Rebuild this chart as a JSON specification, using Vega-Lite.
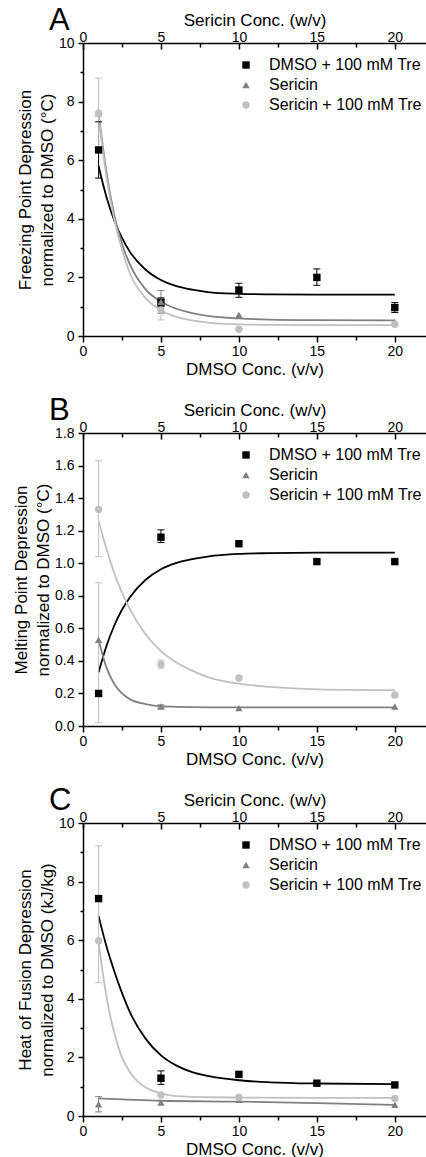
{
  "$schema": "https://vega.github.io/schema/vega-lite/v6.json",
  "padding": {"left": 12, "top": 5, "right": 0, "bottom": 0},
  "background": "white",
  "datasets": {
    "fits": [
      {"p":"A","s":"DMSO + 100 mM Tre","x":1,"y":5.8},{"p":"A","s":"DMSO + 100 mM Tre","x":1.5,"y":4.75},{"p":"A","s":"DMSO + 100 mM Tre","x":2,"y":3.95},{"p":"A","s":"DMSO + 100 mM Tre","x":2.5,"y":3.35},{"p":"A","s":"DMSO + 100 mM Tre","x":3,"y":2.88},{"p":"A","s":"DMSO + 100 mM Tre","x":4,"y":2.27},{"p":"A","s":"DMSO + 100 mM Tre","x":5,"y":1.91},{"p":"A","s":"DMSO + 100 mM Tre","x":6,"y":1.7},{"p":"A","s":"DMSO + 100 mM Tre","x":7,"y":1.58},{"p":"A","s":"DMSO + 100 mM Tre","x":8,"y":1.5},{"p":"A","s":"DMSO + 100 mM Tre","x":10,"y":1.44},{"p":"A","s":"DMSO + 100 mM Tre","x":12,"y":1.42},{"p":"A","s":"DMSO + 100 mM Tre","x":15,"y":1.41},{"p":"A","s":"DMSO + 100 mM Tre","x":20,"y":1.41},
      {"p":"A","s":"Sericin","x":1,"y":7.6},{"p":"A","s":"Sericin","x":1.5,"y":5.6},{"p":"A","s":"Sericin","x":2,"y":4.15},{"p":"A","s":"Sericin","x":2.5,"y":3.15},{"p":"A","s":"Sericin","x":3,"y":2.45},{"p":"A","s":"Sericin","x":4,"y":1.6},{"p":"A","s":"Sericin","x":5,"y":1.17},{"p":"A","s":"Sericin","x":6,"y":0.93},{"p":"A","s":"Sericin","x":7,"y":0.78},{"p":"A","s":"Sericin","x":8,"y":0.69},{"p":"A","s":"Sericin","x":10,"y":0.6},{"p":"A","s":"Sericin","x":12,"y":0.56},{"p":"A","s":"Sericin","x":15,"y":0.54},{"p":"A","s":"Sericin","x":20,"y":0.53},
      {"p":"A","s":"Sericin + 100 mM Tre","x":1,"y":7.5},{"p":"A","s":"Sericin + 100 mM Tre","x":1.5,"y":5.45},{"p":"A","s":"Sericin + 100 mM Tre","x":2,"y":4.0},{"p":"A","s":"Sericin + 100 mM Tre","x":2.5,"y":2.95},{"p":"A","s":"Sericin + 100 mM Tre","x":3,"y":2.15},{"p":"A","s":"Sericin + 100 mM Tre","x":4,"y":1.3},{"p":"A","s":"Sericin + 100 mM Tre","x":5,"y":0.88},{"p":"A","s":"Sericin + 100 mM Tre","x":6,"y":0.65},{"p":"A","s":"Sericin + 100 mM Tre","x":7,"y":0.53},{"p":"A","s":"Sericin + 100 mM Tre","x":8,"y":0.46},{"p":"A","s":"Sericin + 100 mM Tre","x":10,"y":0.4},{"p":"A","s":"Sericin + 100 mM Tre","x":12,"y":0.38},{"p":"A","s":"Sericin + 100 mM Tre","x":15,"y":0.37},{"p":"A","s":"Sericin + 100 mM Tre","x":20,"y":0.37},
      {"p":"B","s":"DMSO + 100 mM Tre","x":1,"y":0.33},{"p":"B","s":"DMSO + 100 mM Tre","x":1.5,"y":0.49},{"p":"B","s":"DMSO + 100 mM Tre","x":2,"y":0.616},{"p":"B","s":"DMSO + 100 mM Tre","x":2.5,"y":0.714},{"p":"B","s":"DMSO + 100 mM Tre","x":3,"y":0.79},{"p":"B","s":"DMSO + 100 mM Tre","x":4,"y":0.897},{"p":"B","s":"DMSO + 100 mM Tre","x":5,"y":0.963},{"p":"B","s":"DMSO + 100 mM Tre","x":6,"y":1.002},{"p":"B","s":"DMSO + 100 mM Tre","x":7,"y":1.025},{"p":"B","s":"DMSO + 100 mM Tre","x":8,"y":1.041},{"p":"B","s":"DMSO + 100 mM Tre","x":10,"y":1.057},{"p":"B","s":"DMSO + 100 mM Tre","x":12,"y":1.062},{"p":"B","s":"DMSO + 100 mM Tre","x":15,"y":1.065},{"p":"B","s":"DMSO + 100 mM Tre","x":20,"y":1.065},
      {"p":"B","s":"Sericin","x":1,"y":0.53},{"p":"B","s":"Sericin","x":1.5,"y":0.36},{"p":"B","s":"Sericin","x":2,"y":0.26},{"p":"B","s":"Sericin","x":2.5,"y":0.2},{"p":"B","s":"Sericin","x":3,"y":0.165},{"p":"B","s":"Sericin","x":4,"y":0.135},{"p":"B","s":"Sericin","x":5,"y":0.122},{"p":"B","s":"Sericin","x":6,"y":0.118},{"p":"B","s":"Sericin","x":8,"y":0.115},{"p":"B","s":"Sericin","x":10,"y":0.115},{"p":"B","s":"Sericin","x":15,"y":0.115},{"p":"B","s":"Sericin","x":20,"y":0.115},
      {"p":"B","s":"Sericin + 100 mM Tre","x":1,"y":1.26},{"p":"B","s":"Sericin + 100 mM Tre","x":1.5,"y":1.09},{"p":"B","s":"Sericin + 100 mM Tre","x":2,"y":0.94},{"p":"B","s":"Sericin + 100 mM Tre","x":2.5,"y":0.82},{"p":"B","s":"Sericin + 100 mM Tre","x":3,"y":0.72},{"p":"B","s":"Sericin + 100 mM Tre","x":4,"y":0.565},{"p":"B","s":"Sericin + 100 mM Tre","x":5,"y":0.46},{"p":"B","s":"Sericin + 100 mM Tre","x":6,"y":0.39},{"p":"B","s":"Sericin + 100 mM Tre","x":7,"y":0.34},{"p":"B","s":"Sericin + 100 mM Tre","x":8,"y":0.3},{"p":"B","s":"Sericin + 100 mM Tre","x":10,"y":0.26},{"p":"B","s":"Sericin + 100 mM Tre","x":12,"y":0.24},{"p":"B","s":"Sericin + 100 mM Tre","x":15,"y":0.225},{"p":"B","s":"Sericin + 100 mM Tre","x":20,"y":0.22},
      {"p":"C","s":"DMSO + 100 mM Tre","x":1,"y":6.83},{"p":"C","s":"DMSO + 100 mM Tre","x":1.5,"y":5.8},{"p":"C","s":"DMSO + 100 mM Tre","x":2,"y":4.95},{"p":"C","s":"DMSO + 100 mM Tre","x":2.5,"y":4.2},{"p":"C","s":"DMSO + 100 mM Tre","x":3,"y":3.55},{"p":"C","s":"DMSO + 100 mM Tre","x":4,"y":2.65},{"p":"C","s":"DMSO + 100 mM Tre","x":5,"y":2.07},{"p":"C","s":"DMSO + 100 mM Tre","x":6,"y":1.72},{"p":"C","s":"DMSO + 100 mM Tre","x":7,"y":1.5},{"p":"C","s":"DMSO + 100 mM Tre","x":8,"y":1.37},{"p":"C","s":"DMSO + 100 mM Tre","x":10,"y":1.22},{"p":"C","s":"DMSO + 100 mM Tre","x":12,"y":1.15},{"p":"C","s":"DMSO + 100 mM Tre","x":15,"y":1.11},{"p":"C","s":"DMSO + 100 mM Tre","x":20,"y":1.09},
      {"p":"C","s":"Sericin","x":1,"y":0.6},{"p":"C","s":"Sericin","x":5,"y":0.52},{"p":"C","s":"Sericin","x":10,"y":0.49},{"p":"C","s":"Sericin","x":15,"y":0.44},{"p":"C","s":"Sericin","x":20,"y":0.38},
      {"p":"C","s":"Sericin + 100 mM Tre","x":1,"y":5.92},{"p":"C","s":"Sericin + 100 mM Tre","x":1.25,"y":4.95},{"p":"C","s":"Sericin + 100 mM Tre","x":1.5,"y":4.1},{"p":"C","s":"Sericin + 100 mM Tre","x":1.75,"y":3.4},{"p":"C","s":"Sericin + 100 mM Tre","x":2,"y":2.85},{"p":"C","s":"Sericin + 100 mM Tre","x":2.5,"y":2.0},{"p":"C","s":"Sericin + 100 mM Tre","x":3,"y":1.5},{"p":"C","s":"Sericin + 100 mM Tre","x":3.5,"y":1.18},{"p":"C","s":"Sericin + 100 mM Tre","x":4,"y":0.98},{"p":"C","s":"Sericin + 100 mM Tre","x":5,"y":0.77},{"p":"C","s":"Sericin + 100 mM Tre","x":6,"y":0.68},{"p":"C","s":"Sericin + 100 mM Tre","x":8,"y":0.64},{"p":"C","s":"Sericin + 100 mM Tre","x":10,"y":0.63},{"p":"C","s":"Sericin + 100 mM Tre","x":15,"y":0.62},{"p":"C","s":"Sericin + 100 mM Tre","x":20,"y":0.62}
    ],
    "errs": [
      {"p":"A","s":"DMSO + 100 mM Tre","x":1,"lo":5.39,"hi":7.31},
      {"p":"A","s":"DMSO + 100 mM Tre","x":5,"lo":1.0,"hi":1.3},
      {"p":"A","s":"DMSO + 100 mM Tre","x":10,"lo":1.32,"hi":1.8},
      {"p":"A","s":"DMSO + 100 mM Tre","x":15,"lo":1.73,"hi":2.29},
      {"p":"A","s":"DMSO + 100 mM Tre","x":20,"lo":0.8,"hi":1.14},
      {"p":"A","s":"Sericin","x":5,"lo":0.77,"hi":1.55},
      {"p":"A","s":"Sericin + 100 mM Tre","x":1,"lo":6.4,"hi":8.8},
      {"p":"A","s":"Sericin + 100 mM Tre","x":5,"lo":0.55,"hi":1.25},
      {"p":"B","s":"DMSO + 100 mM Tre","x":5,"lo":1.127,"hi":1.205},
      {"p":"B","s":"Sericin","x":5,"lo":0.11,"hi":0.13},
      {"p":"B","s":"Sericin + 100 mM Tre","x":1,"lo":1.04,"hi":1.63},
      {"p":"B","s":"Sericin + 100 mM Tre","x":1,"lo":0.02,"hi":0.88},
      {"p":"B","s":"Sericin + 100 mM Tre","x":5,"lo":0.355,"hi":0.405},
      {"p":"C","s":"DMSO + 100 mM Tre","x":5,"lo":1.08,"hi":1.54},
      {"p":"C","s":"Sericin","x":1,"lo":0.14,"hi":0.66},
      {"p":"C","s":"Sericin + 100 mM Tre","x":1,"lo":4.55,"hi":9.22}
    ],
    "pts": [
      {"p":"A","s":"DMSO + 100 mM Tre","x":1,"y":6.35},
      {"p":"A","s":"DMSO + 100 mM Tre","x":5,"y":1.15},
      {"p":"A","s":"DMSO + 100 mM Tre","x":10,"y":1.57},
      {"p":"A","s":"DMSO + 100 mM Tre","x":15,"y":2.0},
      {"p":"A","s":"DMSO + 100 mM Tre","x":20,"y":0.97},
      {"p":"A","s":"Sericin","x":1,"y":7.6},
      {"p":"A","s":"Sericin","x":5,"y":1.17},
      {"p":"A","s":"Sericin","x":10,"y":0.72},
      {"p":"A","s":"Sericin","x":20,"y":0.48},
      {"p":"A","s":"Sericin + 100 mM Tre","x":1,"y":7.6},
      {"p":"A","s":"Sericin + 100 mM Tre","x":5,"y":0.89},
      {"p":"A","s":"Sericin + 100 mM Tre","x":10,"y":0.23},
      {"p":"A","s":"Sericin + 100 mM Tre","x":20,"y":0.4},
      {"p":"B","s":"DMSO + 100 mM Tre","x":1,"y":0.2},
      {"p":"B","s":"DMSO + 100 mM Tre","x":5,"y":1.16},
      {"p":"B","s":"DMSO + 100 mM Tre","x":10,"y":1.12},
      {"p":"B","s":"DMSO + 100 mM Tre","x":15,"y":1.01},
      {"p":"B","s":"DMSO + 100 mM Tre","x":20,"y":1.01},
      {"p":"B","s":"Sericin","x":1,"y":0.53},
      {"p":"B","s":"Sericin","x":5,"y":0.12},
      {"p":"B","s":"Sericin","x":10,"y":0.11},
      {"p":"B","s":"Sericin","x":20,"y":0.12},
      {"p":"B","s":"Sericin + 100 mM Tre","x":1,"y":1.33},
      {"p":"B","s":"Sericin + 100 mM Tre","x":5,"y":0.38},
      {"p":"B","s":"Sericin + 100 mM Tre","x":10,"y":0.295},
      {"p":"B","s":"Sericin + 100 mM Tre","x":20,"y":0.19},
      {"p":"C","s":"DMSO + 100 mM Tre","x":1,"y":7.42},
      {"p":"C","s":"DMSO + 100 mM Tre","x":5,"y":1.29},
      {"p":"C","s":"DMSO + 100 mM Tre","x":10,"y":1.42},
      {"p":"C","s":"DMSO + 100 mM Tre","x":15,"y":1.12},
      {"p":"C","s":"DMSO + 100 mM Tre","x":20,"y":1.06},
      {"p":"C","s":"Sericin","x":1,"y":0.4},
      {"p":"C","s":"Sericin","x":5,"y":0.46},
      {"p":"C","s":"Sericin","x":10,"y":0.55},
      {"p":"C","s":"Sericin","x":20,"y":0.38},
      {"p":"C","s":"Sericin + 100 mM Tre","x":1,"y":5.98},
      {"p":"C","s":"Sericin + 100 mM Tre","x":5,"y":0.72},
      {"p":"C","s":"Sericin + 100 mM Tre","x":10,"y":0.64},
      {"p":"C","s":"Sericin + 100 mM Tre","x":20,"y":0.6}
    ]
  },
  "spacing": 97,
  "bounds": "flush",
  "resolve": {"scale": {"x": "independent", "y": "independent", "color": "independent", "shape": "independent", "stroke": "independent"}},
  "vconcat": [
    {
      "title": {"text": "A"},
      "width": 343, "height": 293,
      "resolve": {"axis": {"x": "independent", "y": "independent"}},
      "layer": [
        {"data": {"name": "fits"}, "transform": [{"filter": "datum.p == 'A'"}],
         "mark": {"type": "line", "strokeWidth": 1.8, "interpolate": "monotone", "clip": true},
         "encoding": {
           "x": {"field": "x", "type": "quantitative", "scale": {"domain": [0, 22], "nice": false, "zero": false},
                 "axis": {"orient": "bottom", "values": [0,5,10,15,20], "title": "DMSO Conc. (v/v)", "tickSize": 6, "labelPadding": 2, "titlePadding": 3}},
           "y": {"field": "y", "type": "quantitative", "scale": {"domain": [0, 10], "nice": false},
                 "axis": {"orient": "left", "values": [0,2,4,6,8,10], "title": ["Freezing Point Depression", "normalized to DMSO (°C)"], "tickSize": 5, "labelPadding": 4, "titlePadding": 2}},
           "stroke": {"field": "s", "type": "nominal", "legend": null, "scale": {"range": ["#000000", "#808080", "#c0c0c0"]}}
         }},
        {"data": {"name": "errs"}, "transform": [{"filter": "datum.p == 'A'"}],
         "mark": {"type": "rule", "strokeWidth": 1},
         "encoding": {
           "x": {"field": "x", "type": "quantitative", "axis": {"orient": "top", "values": [0,5,10,15,20], "title": "Sericin Conc. (w/v)", "tickSize": -6, "labelPadding": 5, "titlePadding": 1}},
           "y": {"field": "lo", "type": "quantitative", "axis": {"orient": "left", "values": [1,3,5,7,9], "labels": false, "title": null, "tickSize": 3, "domain": false}},
           "y2": {"field": "hi"},
           "stroke": {"field": "s", "type": "nominal", "legend": null}
         }},
        {"data": {"name": "errs"}, "transform": [{"filter": "datum.p == 'A'"}],
         "mark": {"type": "point", "shape": "stroke", "filled": false, "strokeWidth": 1, "size": 49, "opacity": 1},
         "encoding": {
           "x": {"field": "x", "type": "quantitative", "axis": {"orient": "bottom", "values": [2.5,7.5,12.5,17.5], "labels": false, "title": null, "tickSize": 4, "domain": false}},
           "y": {"field": "lo", "type": "quantitative", "axis": null},
           "stroke": {"field": "s", "type": "nominal", "legend": null}
         }},
        {"data": {"name": "errs"}, "transform": [{"filter": "datum.p == 'A'"}],
         "mark": {"type": "point", "shape": "stroke", "filled": false, "strokeWidth": 1, "size": 49, "opacity": 1},
         "encoding": {
           "x": {"field": "x", "type": "quantitative", "axis": {"orient": "top", "values": [2.5,7.5,12.5,17.5], "labels": false, "title": null, "tickSize": -4, "domain": false}},
           "y": {"field": "hi", "type": "quantitative", "axis": null},
           "stroke": {"field": "s", "type": "nominal", "legend": null}
         }},
        {"data": {"name": "pts"}, "transform": [{"filter": "datum.p == 'A'"}],
         "mark": {"type": "point", "filled": true, "size": 55, "opacity": 1, "strokeWidth": 0},
         "encoding": {
           "x": {"field": "x", "type": "quantitative", "axis": null},
           "y": {"field": "y", "type": "quantitative", "axis": null},
           "color": {"field": "s", "type": "nominal", "legend": {"title": null}, "scale": {"domain": ["DMSO + 100 mM Tre", "Sericin", "Sericin + 100 mM Tre"], "range": ["#000000", "#808080", "#c0c0c0"]}},
           "shape": {"field": "s", "type": "nominal", "legend": {"title": null}, "scale": {"domain": ["DMSO + 100 mM Tre", "Sericin", "Sericin + 100 mM Tre"], "range": ["square", "triangle-up", "circle"]}}
         }}
      ]
    },
    {
      "title": {"text": "B"},
      "width": 343, "height": 293,
      "resolve": {"axis": {"x": "independent", "y": "independent"}},
      "layer": [
        {"data": {"name": "fits"}, "transform": [{"filter": "datum.p == 'B'"}],
         "mark": {"type": "line", "strokeWidth": 1.8, "interpolate": "monotone", "clip": true},
         "encoding": {
           "x": {"field": "x", "type": "quantitative", "scale": {"domain": [0, 22], "nice": false, "zero": false},
                 "axis": {"orient": "bottom", "values": [0,5,10,15,20], "title": "DMSO Conc. (v/v)", "tickSize": 6, "labelPadding": 2, "titlePadding": 3}},
           "y": {"field": "y", "type": "quantitative", "scale": {"domain": [0, 1.8], "nice": false},
                 "axis": {"orient": "left", "values": [0,0.2,0.4,0.6,0.8,1.0,1.2,1.4,1.6,1.8], "format": ".1f", "title": ["Melting Point Depression", "normalized to DMSO (°C)"], "tickSize": 5, "labelPadding": 4, "titlePadding": 2}},
           "stroke": {"field": "s", "type": "nominal", "legend": null, "scale": {"range": ["#000000", "#808080", "#c0c0c0"]}}
         }},
        {"data": {"name": "errs"}, "transform": [{"filter": "datum.p == 'B'"}],
         "mark": {"type": "rule", "strokeWidth": 1},
         "encoding": {
           "x": {"field": "x", "type": "quantitative", "axis": {"orient": "top", "values": [0,5,10,15,20], "title": "Sericin Conc. (w/v)", "tickSize": -6, "labelPadding": 5, "titlePadding": 1}},
           "y": {"field": "lo", "type": "quantitative", "axis": null},
           "y2": {"field": "hi"},
           "stroke": {"field": "s", "type": "nominal", "legend": null}
         }},
        {"data": {"name": "errs"}, "transform": [{"filter": "datum.p == 'B'"}],
         "mark": {"type": "point", "shape": "stroke", "filled": false, "strokeWidth": 1, "size": 49, "opacity": 1},
         "encoding": {
           "x": {"field": "x", "type": "quantitative", "axis": {"orient": "bottom", "values": [2.5,7.5,12.5,17.5], "labels": false, "title": null, "tickSize": 4, "domain": false}},
           "y": {"field": "lo", "type": "quantitative", "axis": null},
           "stroke": {"field": "s", "type": "nominal", "legend": null}
         }},
        {"data": {"name": "errs"}, "transform": [{"filter": "datum.p == 'B'"}],
         "mark": {"type": "point", "shape": "stroke", "filled": false, "strokeWidth": 1, "size": 49, "opacity": 1},
         "encoding": {
           "x": {"field": "x", "type": "quantitative", "axis": {"orient": "top", "values": [2.5,7.5,12.5,17.5], "labels": false, "title": null, "tickSize": -4, "domain": false}},
           "y": {"field": "hi", "type": "quantitative", "axis": null},
           "stroke": {"field": "s", "type": "nominal", "legend": null}
         }},
        {"data": {"name": "pts"}, "transform": [{"filter": "datum.p == 'B'"}],
         "mark": {"type": "point", "filled": true, "size": 55, "opacity": 1, "strokeWidth": 0},
         "encoding": {
           "x": {"field": "x", "type": "quantitative", "axis": null},
           "y": {"field": "y", "type": "quantitative", "axis": null},
           "color": {"field": "s", "type": "nominal", "legend": {"title": null}, "scale": {"domain": ["DMSO + 100 mM Tre", "Sericin", "Sericin + 100 mM Tre"], "range": ["#000000", "#808080", "#c0c0c0"]}},
           "shape": {"field": "s", "type": "nominal", "legend": {"title": null}, "scale": {"domain": ["DMSO + 100 mM Tre", "Sericin", "Sericin + 100 mM Tre"], "range": ["square", "triangle-up", "circle"]}}
         }}
      ]
    },
    {
      "title": {"text": "C"},
      "width": 343, "height": 293,
      "resolve": {"axis": {"x": "independent", "y": "independent"}},
      "layer": [
        {"data": {"name": "fits"}, "transform": [{"filter": "datum.p == 'C'"}],
         "mark": {"type": "line", "strokeWidth": 1.8, "interpolate": "monotone", "clip": true},
         "encoding": {
           "x": {"field": "x", "type": "quantitative", "scale": {"domain": [0, 22], "nice": false, "zero": false},
                 "axis": {"orient": "bottom", "values": [0,5,10,15,20], "title": "DMSO Conc. (v/v)", "tickSize": 6, "labelPadding": 2, "titlePadding": 3}},
           "y": {"field": "y", "type": "quantitative", "scale": {"domain": [0, 10], "nice": false},
                 "axis": {"orient": "left", "values": [0,2,4,6,8,10], "title": ["Heat of Fusion Depression", "normalized to DMSO (kJ/kg)"], "tickSize": 5, "labelPadding": 4, "titlePadding": 2}},
           "stroke": {"field": "s", "type": "nominal", "legend": null, "scale": {"range": ["#000000", "#808080", "#c0c0c0"]}}
         }},
        {"data": {"name": "errs"}, "transform": [{"filter": "datum.p == 'C'"}],
         "mark": {"type": "rule", "strokeWidth": 1},
         "encoding": {
           "x": {"field": "x", "type": "quantitative", "axis": {"orient": "top", "values": [0,5,10,15,20], "title": "Sericin Conc. (w/v)", "tickSize": -6, "labelPadding": 5, "titlePadding": 1}},
           "y": {"field": "lo", "type": "quantitative", "axis": {"orient": "left", "values": [1,3,5,7,9], "labels": false, "title": null, "tickSize": 3, "domain": false}},
           "y2": {"field": "hi"},
           "stroke": {"field": "s", "type": "nominal", "legend": null}
         }},
        {"data": {"name": "errs"}, "transform": [{"filter": "datum.p == 'C'"}],
         "mark": {"type": "point", "shape": "stroke", "filled": false, "strokeWidth": 1, "size": 49, "opacity": 1},
         "encoding": {
           "x": {"field": "x", "type": "quantitative", "axis": {"orient": "bottom", "values": [2.5,7.5,12.5,17.5], "labels": false, "title": null, "tickSize": 4, "domain": false}},
           "y": {"field": "lo", "type": "quantitative", "axis": null},
           "stroke": {"field": "s", "type": "nominal", "legend": null}
         }},
        {"data": {"name": "errs"}, "transform": [{"filter": "datum.p == 'C'"}],
         "mark": {"type": "point", "shape": "stroke", "filled": false, "strokeWidth": 1, "size": 49, "opacity": 1},
         "encoding": {
           "x": {"field": "x", "type": "quantitative", "axis": {"orient": "top", "values": [2.5,7.5,12.5,17.5], "labels": false, "title": null, "tickSize": -4, "domain": false}},
           "y": {"field": "hi", "type": "quantitative", "axis": null},
           "stroke": {"field": "s", "type": "nominal", "legend": null}
         }},
        {"data": {"name": "pts"}, "transform": [{"filter": "datum.p == 'C'"}],
         "mark": {"type": "point", "filled": true, "size": 55, "opacity": 1, "strokeWidth": 0},
         "encoding": {
           "x": {"field": "x", "type": "quantitative", "axis": null},
           "y": {"field": "y", "type": "quantitative", "axis": null},
           "color": {"field": "s", "type": "nominal", "legend": {"title": null}, "scale": {"domain": ["DMSO + 100 mM Tre", "Sericin", "Sericin + 100 mM Tre"], "range": ["#000000", "#808080", "#c0c0c0"]}},
           "shape": {"field": "s", "type": "nominal", "legend": {"title": null}, "scale": {"domain": ["DMSO + 100 mM Tre", "Sericin", "Sericin + 100 mM Tre"], "range": ["square", "triangle-up", "circle"]}}
         }}
      ]
    }
  ],
  "config": {
    "font": "Liberation Sans",
    "view": {"stroke": null},
    "axis": {"domainColor": "#000000", "domainWidth": 1.5, "tickColor": "#000000", "tickWidth": 1.5, "labelColor": "#000000", "labelFontSize": 14, "labelFont": "Liberation Sans", "titleFont": "Liberation Sans", "titleFontSize": 17, "titleFontWeight": "normal", "titleColor": "#000000", "grid": false, "labelFlush": false, "labelOverlap": false, "titleLineHeight": 22},
    "legend": {"orient": "none", "legendX": 155, "legendY": 14, "labelFontSize": 16, "labelFont": "Liberation Sans", "labelColor": "#000000", "symbolSize": 55, "rowPadding": 4, "labelOffset": 15, "symbolStrokeWidth": 0, "padding": 0},
    "title": {"fontSize": 31, "fontWeight": "normal", "anchor": "start", "frame": "group", "dx": -34, "offset": -26, "font": "Liberation Sans", "color": "#000000"}
  }
}
